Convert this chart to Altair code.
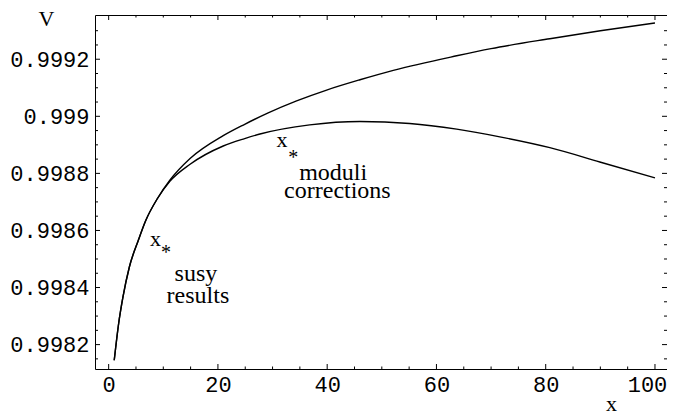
import altair as alt
import pandas as pd

# ---- data ----
x_upper = [1.02, 1.83, 2.62, 3.79, 5.42, 6.79, 8.93, 11.2, 14.9, 20.97, 24.9, 29.2, 34.4, 39.9, 46, 52.1, 63.7, 70, 80.75, 90, 100]
v_upper = [0.998145, 0.998274, 0.998367, 0.998472, 0.998565, 0.998635, 0.998712, 0.998776, 0.998852,
           0.998932, 0.998972, 0.999012, 0.999054, 0.999092, 0.999128, 0.999161, 0.999212, 0.999237,
           0.999272, 0.999300, 0.999327]
x_lower = [1.02, 1.83, 2.62, 3.79, 5.42, 6.79, 8.93, 11.2, 14.9, 20.97, 24.9, 27.7, 36.8, 46, 55.1, 63.7, 71.6, 80.75, 89.9, 100]
v_lower = [0.998145, 0.998274, 0.998367, 0.998472, 0.998565, 0.998635, 0.998712, 0.998772, 0.998832,
           0.998896, 0.998922, 0.998938, 0.998970, 0.998982, 0.998975, 0.998955, 0.998928, 0.998890,
           0.998840, 0.998784]

x_major = [0, 20, 40, 60, 80, 100]
x_minor = [5, 10, 15, 25, 30, 35, 45, 50, 55, 65, 70, 75, 85, 90, 95]
y_major = [0.9982, 0.9984, 0.9986, 0.9988, 0.999, 0.9992]
y_minor = [0.99815, 0.99825, 0.9983, 0.99835, 0.99845, 0.9985, 0.99855, 0.99865, 0.9987, 0.99875,
           0.99885, 0.9989, 0.99895, 0.99905, 0.9991, 0.99915, 0.99925, 0.9993]

ann_text = ["x", "*", "susy", "results", "x", "*", "moduli", "corrections"]
ann_x = [8.56, 10.48, 15.97, 16.34, 31.71, 33.78, 41.1, 41.87]
ann_y = [0.9985454, 0.9985002, 0.9984217, 0.9983447, 0.9988922, 0.9988337, 0.9987755, 0.9987125]
ann_size = [22, 20, 24, 24, 22, 20, 24, 24]

W, H = 572, 354
xscale = alt.Scale(domain=[-2.5, 102.2], nice=False, zero=False)
yscale = alt.Scale(domain=[0.9981145, 0.999355], nice=False, zero=False)

x_axis = alt.Axis(values=x_major, ticks=False, tickSize=0, domain=False, grid=False,
                  labelFont="Liberation Mono", labelFontSize=22, labelColor="black",
                  labelPadding=5, format="d",
                  labelOffset={"condition": {"test": "datum.value == 100", "value": -8}, "value": 0},
                  title="x", titleFont="Liberation Serif", titleFontSize=22,
                  titleFontWeight="normal", titleColor="black",
                  titleX=516, titleY=41, titleAlign="center", titleBaseline="alphabetic")
y_axis = alt.Axis(values=y_major, ticks=False, tickSize=0, domain=False, grid=False,
                  labelFont="Liberation Mono", labelFontSize=22, labelColor="black",
                  labelPadding=6, format=".4~f",
                  title="V", titleFont="Liberation Serif", titleFontSize=22,
                  titleFontWeight="normal", titleColor="black", titleAngle=0,
                  titleX=-49, titleY=10, titleAlign="center", titleBaseline="alphabetic")

df = pd.concat([
    pd.DataFrame({"x": x_upper, "V": v_upper, "s": "upper"}),
    pd.DataFrame({"x": x_lower, "V": v_lower, "s": "lower"}),
])

lines = alt.Chart(df).mark_line(color="black", strokeWidth=1.4, interpolate="monotone").encode(
    x=alt.X("x:Q", scale=xscale, axis=x_axis, title="x"),
    y=alt.Y("V:Q", scale=yscale, axis=y_axis, title="V"),
    detail="s:N",
)


def yticks(vals, x0, x1):
    return alt.Chart(pd.DataFrame({"V": vals})).mark_rule(color="black", strokeWidth=1).encode(
        y=alt.Y("V:Q", scale=yscale, axis=y_axis, title="V"), x=alt.value(x0), x2=alt.value(x1))


def xticks(vals, y0, y1):
    return alt.Chart(pd.DataFrame({"x": vals})).mark_rule(color="black", strokeWidth=1).encode(
        x=alt.X("x:Q", scale=xscale, axis=x_axis, title="x"), y=alt.value(y0), y2=alt.value(y1))


ticks = [
    yticks(y_major, 0, 5), yticks(y_minor, 0, 3),
    yticks(y_major, W, W - 5), yticks(y_minor, W, W - 3),
    xticks(x_major, H, H - 5), xticks(x_minor, H, H - 2.5),
    xticks(x_major, 0, 5), xticks(x_minor, 0, 2.5),
]

ann = alt.Chart(pd.DataFrame({"x": ann_x, "V": ann_y, "t": ann_text, "fs": ann_size})).mark_text(
    font="Liberation Serif", color="black", align="center", baseline="alphabetic"
).encode(
    x=alt.X("x:Q", scale=xscale, axis=x_axis, title="x"),
    y=alt.Y("V:Q", scale=yscale, axis=y_axis, title="V"),
    text="t:N",
    size=alt.Size("fs:Q", scale=None, legend=None),
)

chart = alt.layer(lines, *ticks, ann).properties(
    width=W, height=H,
    autosize=alt.AutoSizeParams(type="none"),
    padding={"left": 87, "top": 7, "right": 0, "bottom": 42},
).configure(background="white").configure_view(stroke="black", strokeWidth=1)

chart.save("out.html", embed_options={"renderer": "svg", "actions": False})
